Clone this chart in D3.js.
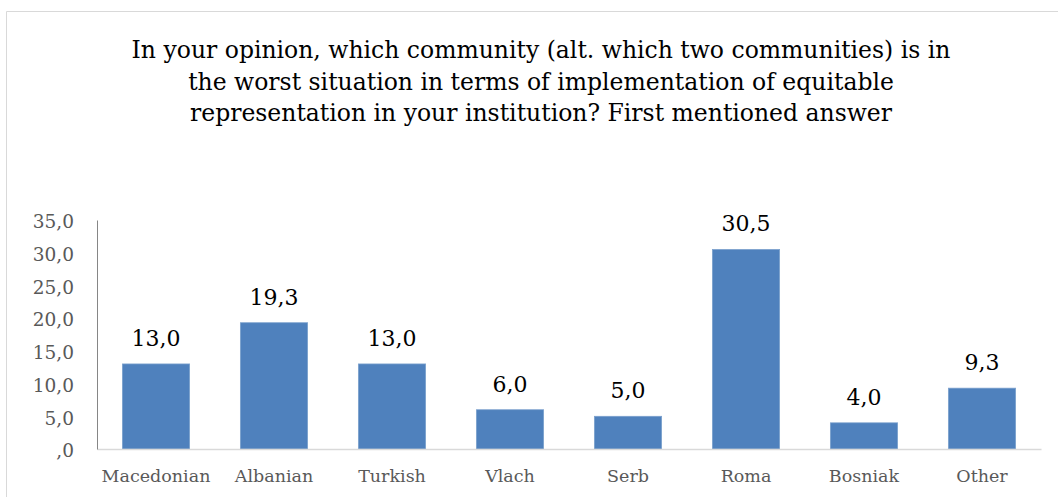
<!DOCTYPE html>
<html><head><meta charset="utf-8">
<script src="https://cdn.jsdelivr.net/npm/d3@7"></script>
<style>
html,body{margin:0;padding:0;background:#fff;}
svg{display:block;}
text{font-family:"DejaVu Serif","Liberation Serif",serif;}
</style></head>
<body><svg id="c" width="1058" height="497"></svg>
<script>
const categories = ["Macedonian","Albanian","Turkish","Vlach","Serb","Roma","Bosniak","Other"];
const values = [13.0, 19.3, 13.0, 6.0, 5.0, 30.5, 4.0, 9.3];
const yTicks = [0,5,10,15,20,25,30,35];
const titleLines = [
  "In your opinion, which community (alt. which two communities) is in",
  "the worst situation in terms of implementation of equitable",
  "representation in your institution? First mentioned answer"
];

const fmt = v => { const s = d3.format(".1f")(v).replace(".", ","); return s.startsWith("0,") ? s.slice(1) : s; };

const svg = d3.select("#c");
const W = 1058, H = 497;
const m = {left: 97, right: 1041, top: 220, bottom: 449};

// outer border
svg.append("path").attr("d", `M6.5,${H} V11.5 H${W}`).attr("fill","none").attr("stroke","#d9d9d9").attr("stroke-width",1);

// title
const title = svg.append("g");
titleLines.forEach((t,i) => {
  title.append("text").attr("x", 541).attr("y", 58 + i*31.5)
    .attr("text-anchor","middle").attr("font-size", 23.5).attr("fill","#000").text(t);
});

const x = d3.scaleBand().domain(categories).range([m.left, m.right]).paddingInner(0.43).paddingOuter(0.215);
const y = d3.scaleLinear().domain([0,35]).range([m.bottom, m.top]);

// y axis
const ya = svg.append("g").attr("transform", `translate(${m.left},0)`)
  .call(d3.axisLeft(y).tickValues(yTicks).tickFormat(fmt).tickSize(0).tickPadding(23));
ya.select(".domain").attr("stroke","#868686");
ya.selectAll("text").attr("font-size", 18.5).attr("fill","#595959").attr("font-family","DejaVu Serif").attr("dy","0.42em");

// bars
svg.append("g").selectAll("rect").data(values).join("rect")
  .attr("x",(d,i)=>x(categories[i])).attr("width",x.bandwidth())
  .attr("y",d=>y(d)).attr("height",d=>y(0)-y(d))
  .attr("fill","#4f81bd").attr("stroke","#7ba0cd").attr("stroke-width",0.75);

// x axis baseline
const xa = svg.append("g").attr("transform", `translate(0,${m.bottom})`)
  .call(d3.axisBottom(x).tickSize(0).tickPadding(21));
xa.select(".domain").attr("stroke","#d9d9d9").attr("stroke-width",1.5);
xa.selectAll("text").attr("font-size", 17.5).attr("fill","#595959").attr("font-family","DejaVu Serif");
ya.raise();

// data labels
svg.append("g").selectAll("text").data(values).join("text")
  .attr("x",(d,i)=>x(categories[i])+x.bandwidth()/2).attr("y",d=>y(d)-18)
  .attr("text-anchor","middle").attr("font-size",22).attr("fill","#000").text(fmt);
</script></body></html>
